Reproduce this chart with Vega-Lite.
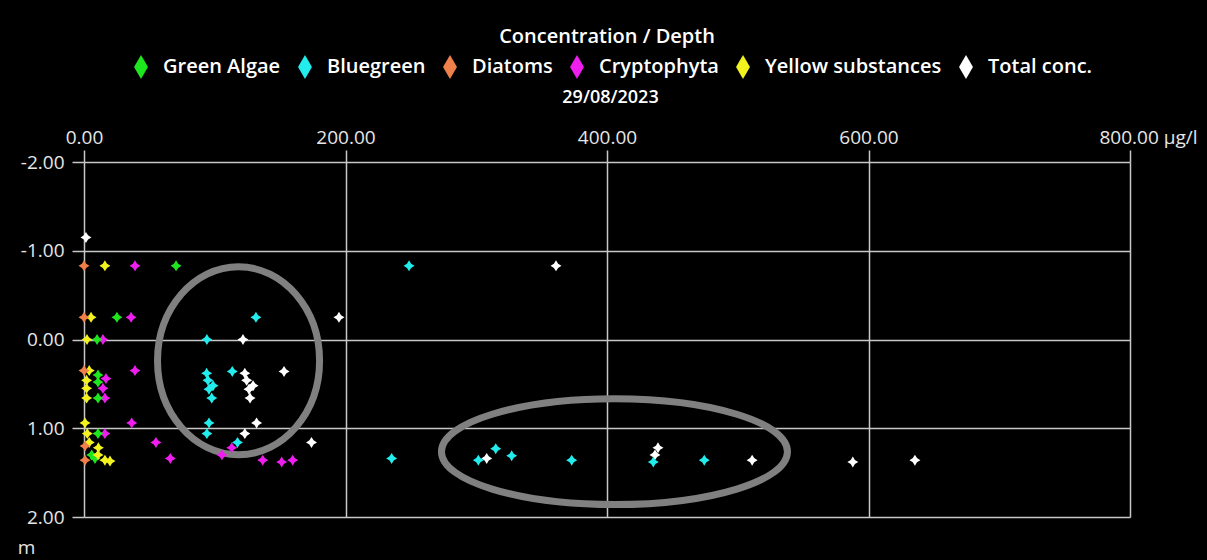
{
  "$schema": "https://vega.github.io/schema/vega-lite/v6.json",
  "autosize": "none",
  "width": 1046,
  "height": 355,
  "padding": {"left": 84, "top": 162, "right": 77, "bottom": 43},
  "background": "#000000",
  "config": {
    "view": {"stroke": null},
    "font": "Open Sans"
  },
  "title": {
    "text": "Concentration / Depth",
    "color": "#ffffff",
    "font": "Open Sans",
    "fontSize": 20,
    "fontWeight": 600,
    "anchor": "middle",
    "offset": 8
  },
  "datasets": {
    "readings": [
      {"series": "Total conc.", "conc": 1.5, "depth": -1.15},
      {"series": "Total conc.", "conc": 361, "depth": -0.83},
      {"series": "Total conc.", "conc": 195, "depth": -0.25},
      {"series": "Total conc.", "conc": 121.6, "depth": 0.0},
      {"series": "Total conc.", "conc": 153, "depth": 0.36},
      {"series": "Total conc.", "conc": 123, "depth": 0.38},
      {"series": "Total conc.", "conc": 124.4, "depth": 0.46},
      {"series": "Total conc.", "conc": 129.3, "depth": 0.52},
      {"series": "Total conc.", "conc": 126.2, "depth": 0.56},
      {"series": "Total conc.", "conc": 127, "depth": 0.66},
      {"series": "Total conc.", "conc": 132, "depth": 0.94},
      {"series": "Total conc.", "conc": 123, "depth": 1.06},
      {"series": "Total conc.", "conc": 174, "depth": 1.16},
      {"series": "Total conc.", "conc": 308, "depth": 1.34},
      {"series": "Total conc.", "conc": 439, "depth": 1.22},
      {"series": "Total conc.", "conc": 436.7, "depth": 1.3},
      {"series": "Total conc.", "conc": 511, "depth": 1.36},
      {"series": "Total conc.", "conc": 588, "depth": 1.38},
      {"series": "Total conc.", "conc": 635.5, "depth": 1.36},

      {"series": "Bluegreen", "conc": 248.6, "depth": -0.83},
      {"series": "Bluegreen", "conc": 131.5, "depth": -0.25},
      {"series": "Bluegreen", "conc": 94, "depth": 0.0},
      {"series": "Bluegreen", "conc": 113.4, "depth": 0.36},
      {"series": "Bluegreen", "conc": 93.8, "depth": 0.38},
      {"series": "Bluegreen", "conc": 94.8, "depth": 0.46},
      {"series": "Bluegreen", "conc": 98.7, "depth": 0.52},
      {"series": "Bluegreen", "conc": 95.6, "depth": 0.56},
      {"series": "Bluegreen", "conc": 97.7, "depth": 0.66},
      {"series": "Bluegreen", "conc": 95.6, "depth": 0.94},
      {"series": "Bluegreen", "conc": 94, "depth": 1.06},
      {"series": "Bluegreen", "conc": 117.4, "depth": 1.16},
      {"series": "Bluegreen", "conc": 235.3, "depth": 1.34},
      {"series": "Bluegreen", "conc": 301.6, "depth": 1.36},
      {"series": "Bluegreen", "conc": 314.9, "depth": 1.23},
      {"series": "Bluegreen", "conc": 327.1, "depth": 1.31},
      {"series": "Bluegreen", "conc": 373, "depth": 1.36},
      {"series": "Bluegreen", "conc": 435.4, "depth": 1.38},
      {"series": "Bluegreen", "conc": 474.4, "depth": 1.36},

      {"series": "Cryptophyta", "conc": 39, "depth": -0.83},
      {"series": "Cryptophyta", "conc": 36, "depth": -0.25},
      {"series": "Cryptophyta", "conc": 14.5, "depth": 0.0},
      {"series": "Cryptophyta", "conc": 39, "depth": 0.35},
      {"series": "Cryptophyta", "conc": 16.8, "depth": 0.44},
      {"series": "Cryptophyta", "conc": 14.5, "depth": 0.55},
      {"series": "Cryptophyta", "conc": 16, "depth": 0.66},
      {"series": "Cryptophyta", "conc": 36.5, "depth": 0.94},
      {"series": "Cryptophyta", "conc": 16, "depth": 1.06},
      {"series": "Cryptophyta", "conc": 55, "depth": 1.16},
      {"series": "Cryptophyta", "conc": 66, "depth": 1.34},
      {"series": "Cryptophyta", "conc": 105.5, "depth": 1.3},
      {"series": "Cryptophyta", "conc": 113, "depth": 1.22},
      {"series": "Cryptophyta", "conc": 136.7, "depth": 1.36},
      {"series": "Cryptophyta", "conc": 151.2, "depth": 1.38},
      {"series": "Cryptophyta", "conc": 159.6, "depth": 1.36},

      {"series": "Green Algae", "conc": 70.4, "depth": -0.83},
      {"series": "Green Algae", "conc": 25.2, "depth": -0.25},
      {"series": "Green Algae", "conc": 10, "depth": 0.0},
      {"series": "Green Algae", "conc": 10.7, "depth": 0.4},
      {"series": "Green Algae", "conc": 10.7, "depth": 0.48},
      {"series": "Green Algae", "conc": 10.7, "depth": 0.66},
      {"series": "Green Algae", "conc": 10.7, "depth": 1.06},
      {"series": "Green Algae", "conc": 5.9, "depth": 1.3},
      {"series": "Green Algae", "conc": 8.4, "depth": 1.34},

      {"series": "Yellow substances", "conc": 16, "depth": -0.83},
      {"series": "Yellow substances", "conc": 5.4, "depth": -0.25},
      {"series": "Yellow substances", "conc": 2.3, "depth": 0.0},
      {"series": "Yellow substances", "conc": 4, "depth": 0.35},
      {"series": "Yellow substances", "conc": 2, "depth": 0.46},
      {"series": "Yellow substances", "conc": 2, "depth": 0.55},
      {"series": "Yellow substances", "conc": 2, "depth": 0.66},
      {"series": "Yellow substances", "conc": 0.8, "depth": 0.94},
      {"series": "Yellow substances", "conc": 2.5, "depth": 1.06},
      {"series": "Yellow substances", "conc": 4, "depth": 1.16},
      {"series": "Yellow substances", "conc": 11, "depth": 1.22},
      {"series": "Yellow substances", "conc": 10.7, "depth": 1.3},
      {"series": "Yellow substances", "conc": 16, "depth": 1.36},
      {"series": "Yellow substances", "conc": 19.9, "depth": 1.37},

      {"series": "Diatoms", "conc": 0, "depth": -0.83},
      {"series": "Diatoms", "conc": 0, "depth": -0.25},
      {"series": "Diatoms", "conc": 0, "depth": 0.35},
      {"series": "Diatoms", "conc": 0.8, "depth": 1.2},
      {"series": "Diatoms", "conc": 0.8, "depth": 1.36}
    ],
    "upperRing": [{"conc": 118.2, "depth": 0.24}],
    "lowerRing": [{"conc": 405.7, "depth": 1.264}]
  },
  "encoding": {
    "x": {
      "field": "conc",
      "type": "quantitative",
      "scale": {"domain": [0, 800], "nice": false, "zero": false},
      "axis": {
        "orient": "top",
        "values": [0, 200, 400, 600, 800],
        "labelExpr": "datum.value == 800 ? '800.00 µg/l' : format(datum.value, '.2f')",
        "labelAlign": {"condition": {"test": "datum.value == 800", "value": "left"}, "value": "center"},
        "labelOffset": {"condition": {"test": "datum.value == 800", "value": -31}, "value": 0},
        "labelColor": "#e6e6e6",
        "labelFont": "Open Sans",
        "labelFontSize": 19,
        "labelPadding": 3,
        "labelFlush": false,
        "labelOverlap": false,
        "domain": false,
        "grid": true,
        "gridColor": "#c8c8c8",
        "gridWidth": 1.5,
        "ticks": true,
        "tickSize": 12,
        "tickColor": "#c8c8c8",
        "tickWidth": 1.5,
        "title": "29/08/2023",
        "titleColor": "#ffffff",
        "titleFont": "Open Sans",
        "titleFontSize": 18,
        "titleFontWeight": 600,
        "titleX": 526,
        "titleY": -65,
        "titleAlign": "center",
        "titleBaseline": "middle"
      }
    },
    "y": {
      "field": "depth",
      "type": "quantitative",
      "scale": {"domain": [-2, 2], "reverse": true, "nice": false, "zero": false},
      "axis": {
        "orient": "left",
        "values": [-2, -1, 0, 1, 2],
        "labelExpr": "(datum.value < 0 ? '-' : '') + format(abs(datum.value), '.2f')",
        "labelColor": "#e6e6e6",
        "labelFont": "Open Sans",
        "labelFontSize": 19,
        "labelPadding": 8,
        "labelOverlap": false,
        "labelFlush": false,
        "domain": false,
        "grid": true,
        "gridColor": "#c8c8c8",
        "gridWidth": 1.5,
        "ticks": true,
        "tickSize": 12,
        "tickColor": "#c8c8c8",
        "tickWidth": 1.5,
        "title": "m",
        "titleAngle": 0,
        "titleColor": "#e6e6e6",
        "titleFont": "Open Sans",
        "titleFontSize": 19,
        "titleFontWeight": "normal",
        "titleX": -58,
        "titleY": 385,
        "titleAlign": "center",
        "titleBaseline": "middle"
      }
    }
  },
  "layer": [
    {
      "data": {"name": "upperRing"},
      "mark": {
        "type": "point",
        "filled": false,
        "shape": "M0,-1A0.862,1 0 1,1 0,1A0.862,1 0 1,1 0,-1Z",
        "size": 35344,
        "stroke": "#808080",
        "strokeWidth": 7,
        "opacity": 1,
        "clip": false
      }
    },
    {
      "data": {"name": "lowerRing"},
      "mark": {
        "type": "point",
        "filled": false,
        "shape": "M-1,0A1,0.306 0 1,1 1,0A1,0.306 0 1,1 -1,0Z",
        "size": 119716,
        "stroke": "#808080",
        "strokeWidth": 7,
        "opacity": 1,
        "clip": false
      }
    },
    {
      "data": {"name": "readings"},
      "mark": {
        "type": "point",
        "filled": true,
        "shape": "M0,-1L0.38,-0.38L1,0L0.38,0.38L0,1L-0.38,0.38L-1,0L-0.38,-0.38Z",
        "size": 120,
        "opacity": 1,
        "strokeWidth": 0
      },
      "encoding": {
        "color": {
          "field": "series",
          "type": "nominal",
          "scale": {
            "domain": ["Green Algae", "Bluegreen", "Diatoms", "Cryptophyta", "Yellow substances", "Total conc."],
            "range": ["#1ee61e", "#22ecec", "#f0804a", "#ee1eee", "#f2f21e", "#ffffff"]
          },
          "legend": {
            "orient": "none",
            "direction": "horizontal",
            "legendX": 45,
            "legendY": -107,
            "title": null,
            "symbolType": "M0,-1L0.58,0L0,1L-0.58,0Z",
            "symbolSize": 576,
            "symbolStrokeWidth": 0,
            "symbolOpacity": 1,
            "labelColor": "#ffffff",
            "labelFont": "Open Sans",
            "labelFontSize": 20,
            "labelFontWeight": 600,
            "labelOffset": 10,
            "columnPadding": 12,
            "labelLimit": 300,
            "encode": {
              "symbols": {"update": {"shape": {"value": "M0,-1L0.58,0L0,1L-0.58,0Z"}, "size": {"value": 576}}}
            }
          }
        }
      }
    }
  ]
}
